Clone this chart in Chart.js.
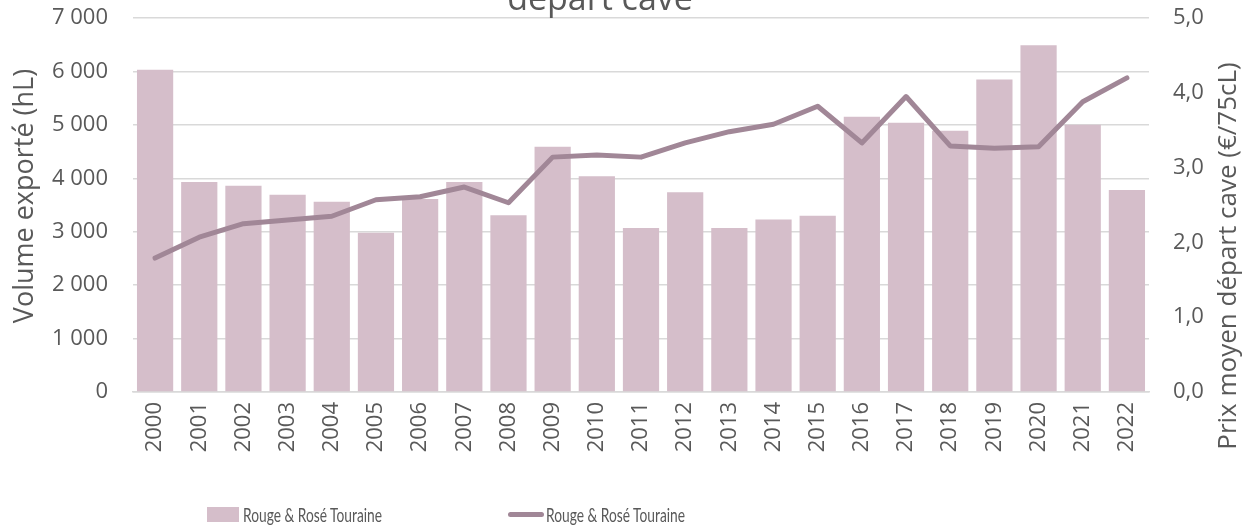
<!DOCTYPE html>
<html>
<head>
<meta charset="utf-8">
<script src="https://cdn.jsdelivr.net/npm/chart.js@4.4.1/dist/chart.umd.min.js"></script>
<style>
  html, body { margin: 0; padding: 0; background: #ffffff; }
  #wrap { position: relative; width: 1244px; height: 528px; overflow: hidden; }
  #c { position: absolute; left: 0; top: 0; }
  .lg { position: absolute; font-family: Lato, "Liberation Sans", sans-serif; font-size: 19px; line-height: 19px; color: #595959; white-space: nowrap; transform-origin: 0 50%; }
  .sw { position: absolute; }
</style>
</head>
<body>
<div id="wrap">
  <canvas id="c" width="1244" height="528"></canvas>
  <div class="sw" style="left:207px;top:507px;width:32px;height:15px;background:#D5BECA;"></div>
  <div class="lg" id="lg1" style="left:243px;top:505px;">Rouge &amp; Rosé Touraine</div>
  <div class="sw" style="left:508px;top:512px;width:36px;height:5px;border-radius:3px;background:#A18797;"></div>
  <div class="lg" id="lg2" style="left:546px;top:505px;">Rouge &amp; Rosé Touraine</div>
</div>
<script>
const years = ['2000','2001','2002','2003','2004','2005','2006','2007','2008','2009','2010','2011','2012','2013','2014','2015','2016','2017','2018','2019','2020','2021','2022'];
const volumes = [6030, 3930, 3860, 3690, 3560, 2980, 3610, 3930, 3310, 4590, 4040, 3070, 3740, 3070, 3230, 3300, 5150, 5040, 4890, 5850, 6490, 5000, 3780];
const prices = [1.79, 2.07, 2.25, 2.30, 2.35, 2.57, 2.61, 2.74, 2.53, 3.14, 3.17, 3.14, 3.33, 3.48, 3.58, 3.82, 3.33, 3.95, 3.29, 3.26, 3.28, 3.88, 4.20];
const volumeTicks = ['0', '1 000', '2 000', '3 000', '4 000', '5 000', '6 000', '7 000'];
const priceTicks = ['0,0', '1,0', '2,0', '3,0', '4,0', '5,0'];
const seriesName = 'Rouge & Rosé Touraine';
const titleText = 'départ cave';
const leftTitle = 'Volume exporté (hL)';
const rightTitle = 'Prix moyen départ cave (€/75cL)';

const textColor = '#595959';
const gridColor = '#D9D9D9';

['lg1', 'lg2'].forEach(id => {
  const el = document.getElementById(id);
  const w = el.getBoundingClientRect().width;
  if (w > 0) el.style.transform = 'scaleX(' + (139 / w) + ')';
});

const textPlugin = {
  id: 'extraText',
  afterDraw(chart) {
    const ctx = chart.ctx;
    ctx.save();
    ctx.fillStyle = textColor;
    ctx.font = '34px "Open Sans"';
    ctx.textAlign = 'center';
    ctx.textBaseline = 'alphabetic';
    ctx.fillText(titleText, 600, 10);
    ctx.save();
    ctx.translate(25, 196);
    ctx.rotate(-Math.PI / 2);
    ctx.font = '27px "Open Sans"';
    ctx.textBaseline = 'middle';
    ctx.fillText(leftTitle, 0, 0);
    ctx.restore();
    ctx.save();
    ctx.translate(1229, 256);
    ctx.rotate(-Math.PI / 2);
    ctx.font = '26px "Open Sans"';
    ctx.textBaseline = 'middle';
    ctx.fillText(rightTitle, 0, 0);
    ctx.restore();
    ctx.restore();
  }
};

function fixV(s, w) {
  s.width = w;
  s.paddingTop = 0;
  s.paddingBottom = 0;
}

new Chart(document.getElementById('c'), {
  data: {
    labels: years,
    datasets: [
      {
        type: 'line',
        label: seriesName,
        data: prices,
        yAxisID: 'y1',
        borderColor: '#A18797',
        backgroundColor: '#A18797',
        borderWidth: 5,
        pointRadius: 0,
        tension: 0,
        borderCapStyle: 'round',
        borderJoinStyle: 'round',
        order: 0
      },
      {
        type: 'bar',
        label: seriesName,
        data: volumes,
        yAxisID: 'y',
        backgroundColor: '#D5BECA',
        borderWidth: 0,
        barPercentage: 0.82,
        categoryPercentage: 1.0,
        order: 1
      }
    ]
  },
  options: {
    responsive: false,
    animation: false,
    devicePixelRatio: 1,
    layout: { padding: { top: 18, left: 0, right: 0, bottom: 0 } },
    plugins: {
      legend: { display: false },
      title: { display: false },
      tooltip: { enabled: false }
    },
    scales: {
      x: {
        type: 'category',
        grid: { display: false, drawTicks: false },
        border: { display: true, color: gridColor, width: 1.5 },
        ticks: {
          color: textColor,
          font: { family: 'Open Sans', size: 22 },
          minRotation: 90,
          maxRotation: 90,
          padding: 10,
          autoSkip: false
        },
        afterFit(s) { s.height = 136; s.paddingLeft = 0; s.paddingRight = 0; }
      },
      y: {
        position: 'left',
        min: 0,
        max: 7000,
        grid: { color: gridColor, lineWidth: 1.5, drawTicks: false },
        border: { display: false },
        ticks: {
          stepSize: 1000,
          color: textColor,
          font: { family: 'Open Sans', size: 22 },
          padding: 25,
          callback: (v) => volumeTicks[Math.round(v / 1000)]
        },
        afterFit(s) { fixV(s, 133); }
      },
      y1: {
        position: 'right',
        min: 0,
        max: 5,
        grid: { display: false, drawTicks: false },
        border: { display: false },
        ticks: {
          stepSize: 1,
          color: textColor,
          font: { family: 'Open Sans', size: 22 },
          padding: 24,
          callback: (v) => priceTicks[Math.round(v)]
        },
        afterFit(s) { fixV(s, 95); }
      }
    }
  },
  plugins: [textPlugin]
});
</script>
</body>
</html>
